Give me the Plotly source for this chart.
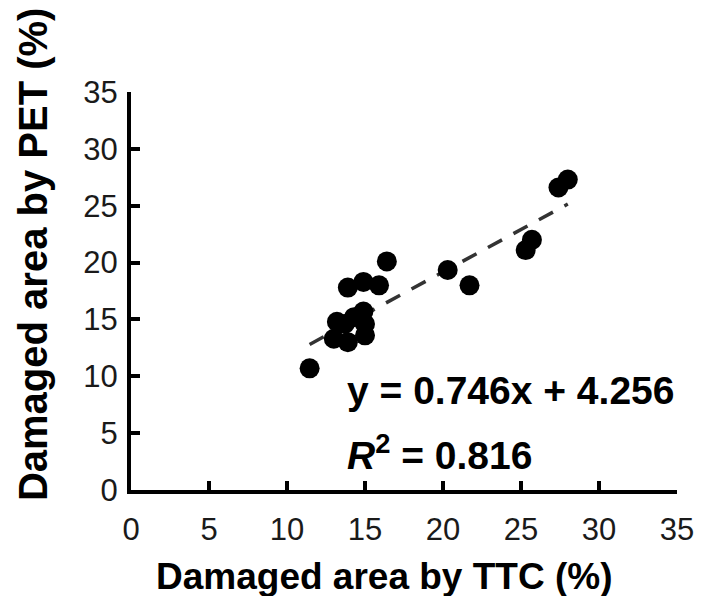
import plotly.graph_objects as go

# Data (x = damaged area by TTC %, y = damaged area by PET %)
ttc = [11.45, 13.9, 14.9, 15.9, 16.4, 20.3, 21.7, 25.3, 25.7, 27.4, 28.0,
       13.0, 13.2, 13.9, 14.3, 15.0, 14.9, 13.7, 15.0]
pet = [10.7, 17.8, 18.3, 18.0, 20.1, 19.35, 18.0, 21.1, 22.0, 26.6, 27.3,
       13.3, 14.8, 13.0, 15.2, 13.6, 15.7, 14.6, 14.6]

fit_coef = [0.746, 4.256]        # slope, intercept
fit_x = [11.45, 28.0]            # trendline x extent
r2 = 0.816

tick_vals = [0, 5, 10, 15, 20, 25, 30, 35]
x_title = "Damaged area by TTC (%)"
y_title = "Damaged area by PET (%)"
eq_text = "y = 0.746x + 4.256"
r2_text = "<i>R</i><sup>2</sup> = 0.816"

fit_y = [fit_coef[0] * v + fit_coef[1] for v in fit_x]

FONT = "Liberation Sans, Arial, sans-serif"

# The page body has an 8px default margin: compensate so the figure lines up
OFF = 8
W, H = 706 - OFF, 604 - 2 * OFF
L, R, T, B = 131 - OFF, 23, 92 - OFF, 114 - OFF
pw, ph = W - L - R, H - T - B

fig = go.Figure()
fig.add_trace(go.Scatter(
    x=fit_x, y=fit_y, mode="lines",
    line=dict(color="#333333", width=3.5, dash="16px,13px"),
    showlegend=False, hoverinfo="skip"))
fig.add_trace(go.Scatter(
    x=ttc, y=pet, mode="markers",
    marker=dict(color="black", size=20, line=dict(width=0)),
    showlegend=False))

axis_common = dict(
    range=[0, 35], tickmode="array", tickvals=tick_vals,
    ticktext=[str(v) for v in tick_vals],
    showgrid=False, zeroline=False, showline=True,
    linecolor="black", linewidth=4, mirror=False,
    ticks="inside", ticklen=9, tickwidth=4, tickcolor="black",
    tickfont=dict(family=FONT, size=31, color="#1a1a1a"),
    ticklabeloverflow="allow",
)
fig.update_xaxes(**axis_common, ticklabelstandoff=9)
fig.update_yaxes(**axis_common, ticklabelstandoff=3)


def px_x(p):
    return (p - OFF - L) / pw


def px_y(p):
    return (H - B - (p - OFF)) / ph


fig.add_annotation(text=eq_text, xref="paper", yref="paper",
                   x=px_x(347), y=px_y(390), xanchor="left", yanchor="middle",
                   showarrow=False,
                   font=dict(family=FONT, size=39, color="black", weight="bold"))
fig.add_annotation(text=r2_text, xref="paper", yref="paper",
                   x=px_x(347), y=px_y(452), xanchor="left", yanchor="middle",
                   showarrow=False,
                   font=dict(family=FONT, size=39, color="black", weight="bold"))
fig.add_annotation(text=x_title, xref="paper", yref="paper",
                   x=px_x(387), y=px_y(576), xanchor="center", yanchor="middle",
                   showarrow=False,
                   font=dict(family=FONT, size=37, color="black", weight="bold"))
fig.add_annotation(text=y_title, xref="paper", yref="paper", textangle=-90,
                   x=px_x(32), y=px_y(254), xanchor="center", yanchor="middle",
                   showarrow=False,
                   font=dict(family=FONT, size=40, color="black", weight="bold"))

fig.update_layout(
    width=W, height=H,
    margin=dict(l=L, r=R, t=T, b=B, pad=0),
    paper_bgcolor="white", plot_bgcolor="white",
    showlegend=False,
)

fig.write_html("out.html")
